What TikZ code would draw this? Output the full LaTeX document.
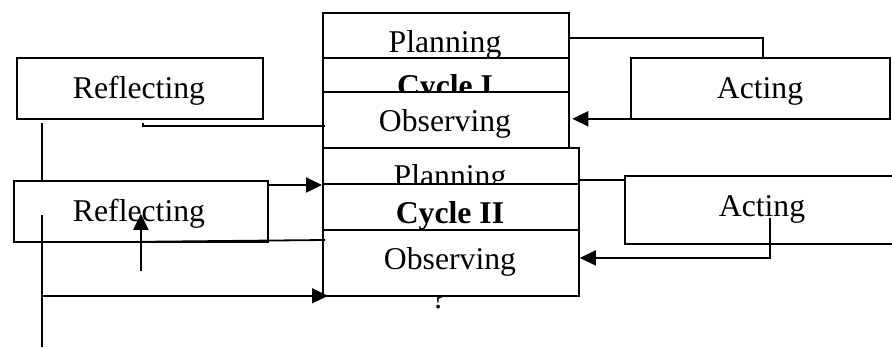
\documentclass[tikz,border=0pt]{standalone}
\usepackage{fontspec}
\setmainfont{Liberation Serif}
\usetikzlibrary{arrows.meta}
\tikzset{
  box/.style={draw, fill=white, line width=1.8pt, inner sep=0pt, anchor=north west},
  txt/.style={inner sep=0pt, anchor=base, font=\fontsize{31.7}{38}\selectfont},
  btxt/.style={txt, font=\fontsize{31.7}{38}\selectfont\bfseries},
  conn/.style={line width=1.8pt},
  arr/.style={conn, -{Triangle[length=16pt,width=15pt]}}
}
\begin{document}
\begin{tikzpicture}[x=1pt,y=-1pt]
\useasboundingbox (0,0) rectangle (892,348);
\clip (0,0) rectangle (892,348);
% Cycle I column
\node[box, minimum width=246pt, minimum height=45pt] (p1) at (322,12) {};
\node[txt] (p1t) at (445,52) {Planning};
\node[box, minimum width=246pt, minimum height=45pt] (c1) at (322,57) {};
\node[btxt] (c1t) at (445,96) {Cycle I};
\node[box, minimum width=246pt, minimum height=56pt] (o1) at (322,91) {};
\node[txt] (o1t) at (445,131) {Observing};
% Cycle II column
\node[box, minimum width=256pt, minimum height=45pt] (p2) at (322,147) {};
\node[txt] (p2t) at (450,186) {Planning};
\node[box, minimum width=256pt, minimum height=46pt] (c2) at (322,183) {};
\node[btxt] (c2t) at (450,223) {Cycle II};
\node[txt] (q) at (439,308) {?};
\node[box, minimum width=256pt, minimum height=66pt] (o2) at (322,229) {};
\node[txt] (o2t) at (450,269) {Observing};
% Reflecting / Acting
\node[box, minimum width=246pt, minimum height=61pt] (r1) at (16,57) {};
\node[txt] (r1t) at (139,98) {Reflecting};
\node[box, minimum width=254pt, minimum height=61pt] (r2) at (13,180) {};
\node[txt] (r2t) at (139,221) {Reflecting};
\node[box, minimum width=259pt, minimum height=61pt] (a1) at (630,57) {};
\node[txt] (a1t) at (760,98) {Acting};
\node[box, minimum width=280pt, minimum height=68pt] (a2) at (624,175) {};
\node[txt] (a2t) at (762,216) {Acting};
% free ends
\coordinate (lmid) at (42,215);
\coordinate (lbot) at (42,347);
% connectors
\draw[conn] ([yshift=-2.5pt]p1.east) -| ([xshift=2.5pt]a1.north);
\draw[arr] ([xshift=2.5pt,yshift=1pt]a1.south) -- ([xshift=2.5pt,yshift=1pt]a1.south -| o1.east);
\draw[conn] ([shift={(3,3)}]r1.south) |- ([shift={(3,6)}]o1.west);
\draw[conn] ([shift={(26,3)}]r1.south west) -- ([xshift=29pt]r2.north west);
\draw[conn] (lmid) -- (lbot);
\draw[arr] ([yshift=1pt]o2.south west -| lbot) -- ([shift={(6,-1)}]o2.south west);
\draw[arr] ([shift={(0,5)}]r2.north east) -- ([shift={(0,5)}]r2.north east -| c2.west);
\draw[conn] ([shift={(3,11)}]o2.north west) -- ([yshift=1pt]r2.south);
\draw[arr] ([yshift=-28pt]r2.south) -- ([yshift=29pt]r2.south);
\draw[conn] ([yshift=-9.5pt]p2.east) -- ([yshift=-9.5pt]p2.east -| a2.west);
\draw[arr] ([shift={(5,8)}]a2.center) |- ([yshift=5pt]o2.east);
\end{tikzpicture}
\end{document}
